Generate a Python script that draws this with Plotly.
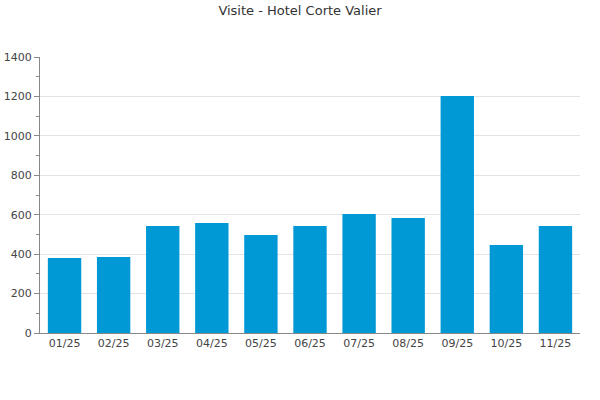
import plotly.graph_objects as go

months = ["01/25", "02/25", "03/25", "04/25", "05/25", "06/25", "07/25", "08/25", "09/25", "10/25", "11/25"]
visits = [380, 385, 543, 558, 497, 543, 604, 583, 1202, 446, 543]
y_ticks = [0, 200, 400, 600, 800, 1000, 1200, 1400]

fig = go.Figure(go.Bar(x=months, y=visits, marker_color="#0099d6", marker_line_width=0))

fig.update_layout(
    width=600, height=400,
    margin=dict(l=40, r=20, t=57, b=67, autoexpand=False),
    paper_bgcolor="white", plot_bgcolor="white",
    bargap=0.32,
    showlegend=False,
    font=dict(family="DejaVu Sans", size=11, color="#444"),
    title=dict(text="Visite - Hotel Corte Valier", x=0.5, xanchor="center", y=0.985, yanchor="top",
               font=dict(family="DejaVu Sans", size=13, color="#333")),
)
fig.update_xaxes(showline=True, linecolor="#888", linewidth=1, ticks="", showgrid=False,
                 automargin=False, tickfont=dict(size=11, color="#444"))
fig.update_yaxes(range=[0, 1400], tickvals=y_ticks, showline=True, linecolor="#888", linewidth=1,
                 ticks="outside", ticklen=5, tickcolor="#888", automargin=False,
                 gridcolor="#e3e3e3", gridwidth=1, zeroline=False,
                 minor=dict(dtick=100, ticks="outside", ticklen=3, tickcolor="#888", showgrid=False),
                 tickfont=dict(size=11, color="#444"))

fig.write_html("out.html", config={"displayModeBar": False},
               post_script="document.body.style.margin='0';")
